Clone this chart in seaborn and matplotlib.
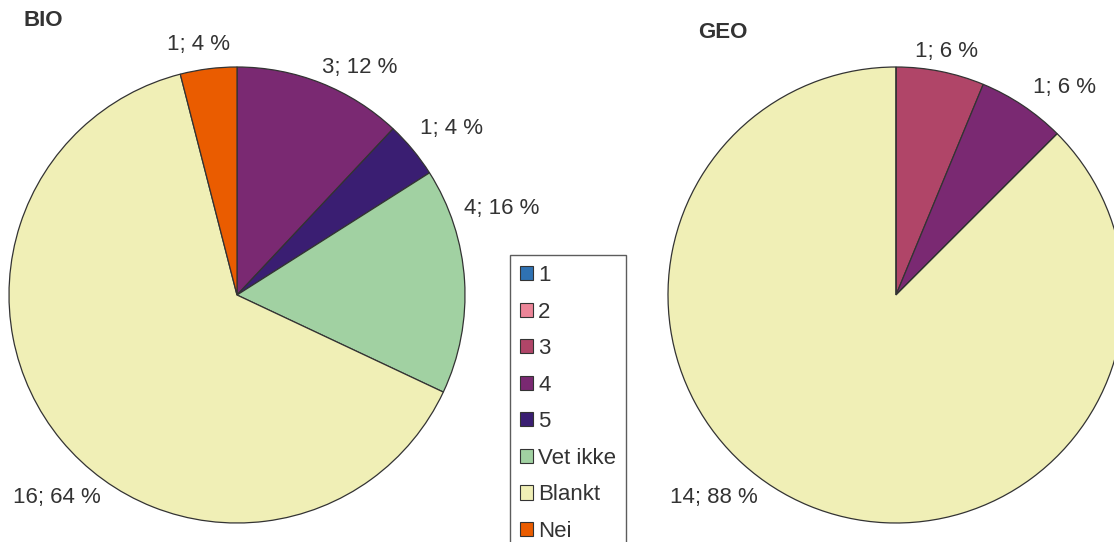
"""Two pie charts (BIO / GEO) with a shared legend, answers per category."""
import matplotlib
matplotlib.use("Agg")
import matplotlib.pyplot as plt
from matplotlib.patches import Patch
import seaborn as sns

categories = ["1", "2", "3", "4", "5", "Vet ikke", "Blankt", "Nei"]
bio_counts = [0, 0, 0, 3, 1, 4, 16, 1]
geo_counts = [0, 0, 1, 1, 0, 0, 14, 0]
colors = ["#2F72B3", "#EC8598", "#B04568", "#7A2972", "#3A1E72",
          "#A1D1A2", "#F0EFB6", "#EA5C00"]

# label placement in pie-radius units (Excel "best fit" look)
bio_label_pos = {3: (0.54, 1.00), 4: (0.94, 0.73), 5: (1.16, 0.38),
                 6: (-0.79, -0.89), 7: (-0.17, 1.10)}
geo_label_pos = {2: (0.22, 1.07), 3: (0.74, 0.91), 6: (-0.80, -0.89)}

sns.set_theme(style="white")
plt.rcParams["font.family"] = ["Liberation Sans", "DejaVu Sans"]
TXT = "#333333"

W, H = 1114, 542
fig = plt.figure(figsize=(W / 100, H / 100), dpi=100)


def draw_pie(cx, cy, r, counts, label_pos, title, title_xy):
    ax = fig.add_axes([(cx - r) / W, (H - cy - r) / H, 2 * r / W, 2 * r / H])
    ax.pie(counts, colors=colors, startangle=90, counterclock=False,
           radius=1.0,
           wedgeprops=dict(edgecolor="#333333", linewidth=0.9))
    ax.set_xlim(-1, 1)
    ax.set_ylim(-1, 1)
    ax.set_aspect("equal")
    ax.axis("off")
    total = sum(counts)
    for i, (x, y) in label_pos.items():
        pct = round(100 * counts[i] / total)
        ax.text(x, y, f"{counts[i]}; {pct} %", ha="center", va="center",
                fontsize=16, color=TXT, clip_on=False)
    fig.text(title_xy[0] / W, 1 - title_xy[1] / H, title, ha="left",
             va="center", fontsize=16, fontweight="bold", color=TXT)
    return ax


draw_pie(237, 295, 228, bio_counts, bio_label_pos, "BIO", (23, 20))
draw_pie(896, 295, 228, geo_counts, geo_label_pos, "GEO", (698, 32))

handles = [Patch(facecolor=c, edgecolor="#333333", linewidth=0.8)
           for c in colors]
leg = fig.legend(handles, categories, loc="upper left",
                 bbox_to_anchor=(510 / W, 1 - 255 / H), borderaxespad=0,
                 fancybox=False, frameon=True, fontsize=16,
                 handlelength=0.6, handleheight=0.6, handletextpad=0.22,
                 labelspacing=0.7, borderpad=0.45, labelcolor=TXT)
leg.get_frame().set_edgecolor("#333333")
leg.get_frame().set_linewidth(1.0)

fig.savefig("out.png", dpi=100)
